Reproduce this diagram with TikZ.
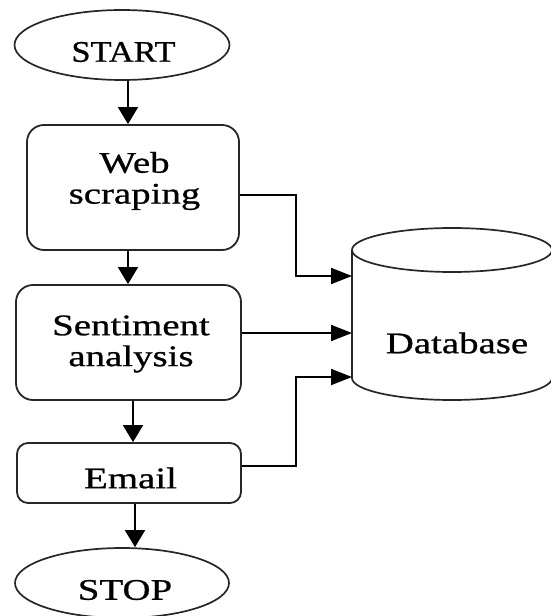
\documentclass[tikz,border=0pt]{standalone}
\usepackage{fontspec}
\setmainfont[FakeStretch=1.3,FakeBold=0.8]{Liberation Serif}
\newfontfamily\narrowserif[FakeStretch=1.15,FakeBold=0.8]{Liberation Serif}
\usetikzlibrary{arrows.meta,shapes.geometric}

\tikzset{
  term/.style={ellipse, draw=black!85, line width=1.7bp, inner sep=0pt},
  procbox/.style={rectangle, draw=black!85, line width=1.8bp, rounded corners=17bp, inner sep=0pt},
  label text/.style={inner sep=0pt, align=center, font=\fontsize{30}{31}\selectfont},
  vflow/.style={line width=1.8bp, -{Triangle[length=17bp,width=20bp]}},
  hflow/.style={line width=1.8bp, -{Triangle[length=21bp,width=16bp]}},
  dbline/.style={draw=black!85, line width=1.7bp},
}

\begin{document}
\begin{tikzpicture}[x=1bp, y=-1bp]
  \useasboundingbox (0,0) rectangle (551,616);
  \clip (0,0) rectangle (551,616);

  % terminal and process shapes
  \node[term, minimum width=215bp, minimum height=70bp] (start) at (122,45) {};
  \node[procbox, minimum width=212bp, minimum height=125bp] (web) at (133,187.5) {};
  \node[procbox, minimum width=225bp, minimum height=115bp] (sent) at (128.5,342.5) {};
  \node[procbox, rounded corners=11bp, minimum width=224bp, minimum height=60bp] (email) at (129,473) {};
  \node[term, minimum width=214bp, minimum height=70bp] (stop) at (122,583) {};

  % database cylinder
  \draw[dbline] (452,250) ellipse [x radius=100bp, y radius=22bp];
  \draw[dbline] (352,250) -- (352,378) arc[start angle=180, end angle=360, x radius=100bp, y radius=22bp] -- (552,250);
  \coordinate (dbin1) at (352,276);
  \coordinate (dbin2) at (352,333);
  \coordinate (dbin3) at (352,377);

  % texts
  \node[label text, font=\narrowserif\fontsize{30}{31}\selectfont] (starttxt) at (123.5,52) {START};
  \node[label text] (webtxt) at (134.5,181) {Web\\scraping};
  \node[label text] (senttxt) at (131,344) {Sentiment\\analysis};
  \node[label text] (emailtxt) at (130.5,478) {Email};
  \node[label text] (stoptxt) at (125,590) {STOP};
  \node[label text] (dbtxt) at (457,343) {Database};

  % main flow
  \draw[vflow] ([xshift=6bp]start.south) -- ([xshift=-5bp]web.north);
  \draw[vflow] ([xshift=-5bp]web.south) -- ([xshift=-0.5bp]sent.north);
  \draw[vflow] ([xshift=4.5bp]sent.south) -- ([xshift=4bp]email.north);
  \draw[vflow] ([xshift=6bp]email.south) -- ([xshift=13bp]stop.north);

  % storage connectors
  \draw[hflow] ([yshift=-7.5bp]web.east) -| ([xshift=-56bp]dbin1) -- (dbin1);
  \draw[hflow] ([yshift=9.5bp]sent.east) -- (dbin2);
  \draw[hflow] ([yshift=7bp]email.east) -| ([xshift=-56bp]dbin3) -- (dbin3);
\end{tikzpicture}
\end{document}
